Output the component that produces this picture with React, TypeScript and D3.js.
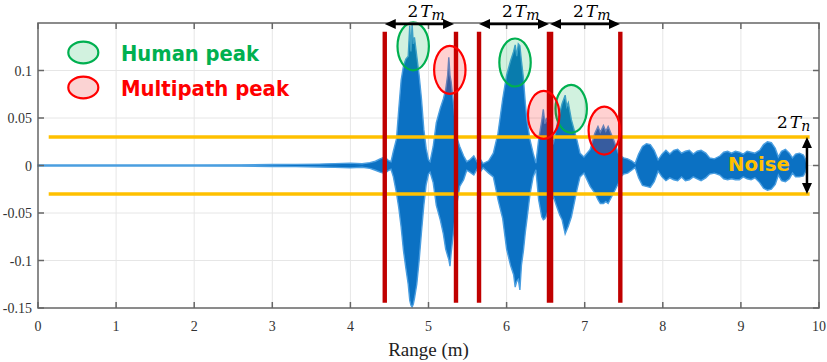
import React, { useEffect, useRef } from "react";
import * as d3 from "d3";

// axis ticks
const rangeTicks = [0, 1, 2, 3, 4, 5, 6, 7, 8, 9, 10];
const ampTicks = [-0.15, -0.1, -0.05, 0, 0.05, 0.1];
const ampTickLabels = ["-0.15", "-0.1", "-0.05", "0", "0.05", "0.1"];

// received signal envelope (range in m, amplitude)
const rangeM = [
  0, 1, 2, 2.6, 3, 3.3, 3.6, 3.8, 4, 4.15, 4.25, 4.32, 4.38, 4.44, 4.49, 4.52,
  4.55, 4.59, 4.62, 4.65, 4.68, 4.71, 4.74, 4.76, 4.775, 4.79, 4.805, 4.82, 4.85,
  4.88, 4.91, 4.94, 4.97, 5.0, 5.02, 5.06, 5.1, 5.15, 5.19, 5.22, 5.245, 5.26,
  5.275, 5.29, 5.32, 5.36, 5.4, 5.45, 5.49, 5.53, 5.58, 5.62, 5.66, 5.7, 5.77,
  5.83, 5.89, 5.95, 6.0, 6.05, 6.09, 6.11, 6.13, 6.15, 6.17, 6.19, 6.215, 6.24,
  6.26, 6.3, 6.34, 6.375, 6.41, 6.45, 6.47, 6.49, 6.51, 6.55, 6.6, 6.64, 6.68,
  6.71, 6.75, 6.77, 6.79, 6.83, 6.9, 6.94, 6.99, 7.07, 7.13, 7.17, 7.2, 7.24,
  7.27, 7.3, 7.37, 7.43, 7.46, 7.5, 7.55, 7.6, 7.645, 7.69, 7.74, 7.79, 7.84,
  7.89, 7.94, 7.99, 8.04, 8.09, 8.14, 8.19, 8.24, 8.29, 8.34, 8.39, 8.44, 8.49,
  8.55, 8.6, 8.66, 8.73, 8.78, 8.83, 8.88, 8.93, 8.98, 9.03, 9.08, 9.13, 9.18,
  9.24, 9.29, 9.34, 9.39, 9.44, 9.48, 9.52, 9.57, 9.62, 9.66, 9.7, 9.75, 9.8,
  9.83, 9.85,
];
const envUpper = [
  0.0006, 0.0006, 0.0006, 0.0007, 0.001, 0.0012, 0.0015, 0.002, 0.0025, 0.0018,
  0.003, 0.0045, 0.007, 0.009, 0.005, 0.004, 0.015, 0.028, 0.06, 0.09, 0.105,
  0.112, 0.115, 0.147, 0.12, 0.149, 0.128, 0.135, 0.115, 0.095, 0.07, 0.038,
  0.018, 0.006, 0.004, 0.02, 0.045, 0.06, 0.07, 0.08, 0.095, 0.114, 0.095, 0.088,
  0.065, 0.03, 0.02, 0.01, 0.004, 0.006, 0.01, 0.004, 0.007, 0.002, 0.005, 0.013,
  0.034, 0.07, 0.095, 0.11, 0.12, 0.127, 0.115, 0.128, 0.126, 0.11, 0.092, 0.065,
  0.048, 0.027, 0.013, 0.0025, 0.027, 0.047, 0.059, 0.044, 0.05, 0.034, 0.024,
  0.041, 0.055, 0.065, 0.074, 0.062, 0.066, 0.048, 0.027, 0.013, 0.009, 0.017,
  0.034, 0.041, 0.035, 0.042, 0.036, 0.041, 0.027, 0.013, 0.01, 0.008, 0.007,
  0.005, 0.002, 0.012, 0.02, 0.023, 0.022, 0.016, 0.006, 0.012, 0.016, 0.012,
  0.016, 0.017, 0.013, 0.015, 0.016, 0.012, 0.015, 0.016, 0.013, 0.008, 0.007,
  0.01, 0.014, 0.015, 0.013, 0.015, 0.014, 0.012, 0.015, 0.014, 0.013, 0.016,
  0.022, 0.025, 0.024, 0.018, 0.009, 0.015, 0.017, 0.013, 0.008, 0.012, 0.013,
  0.011, 0.006, 0.0006,
];
const envLower = [
  -0.0006, -0.0006, -0.0006, -0.0007, -0.001, -0.0012, -0.0016, -0.002, -0.0025,
  -0.0018, -0.003, -0.005, -0.007, -0.0085, -0.005, -0.004, -0.012, -0.029,
  -0.045, -0.065, -0.09, -0.108, -0.125, -0.142, -0.147, -0.149, -0.146, -0.14,
  -0.125, -0.1, -0.07, -0.042, -0.02, -0.009, -0.007, -0.018, -0.042, -0.057,
  -0.072, -0.088, -0.095, -0.099, -0.106, -0.092, -0.07, -0.042, -0.022, -0.015,
  -0.005, -0.007, -0.01, -0.004, -0.007, -0.0025, -0.008, -0.012, -0.036, -0.056,
  -0.088, -0.105, -0.115, -0.128, -0.122, -0.12, -0.131, -0.105, -0.09, -0.07,
  -0.057, -0.03, -0.012, -0.0045, -0.036, -0.054, -0.057, -0.056, -0.053, -0.043,
  -0.033, -0.043, -0.052, -0.057, -0.072, -0.068, -0.064, -0.054, -0.026, -0.012,
  -0.008, -0.022, -0.029, -0.036, -0.04, -0.04, -0.038, -0.04, -0.029, -0.019,
  -0.012, -0.009, -0.008, -0.005, -0.002, -0.013, -0.021, -0.022, -0.023, -0.017,
  -0.006, -0.012, -0.016, -0.013, -0.015, -0.016, -0.012, -0.016, -0.015, -0.012,
  -0.014, -0.016, -0.013, -0.009, -0.008, -0.01, -0.014, -0.015, -0.014, -0.015,
  -0.015, -0.012, -0.014, -0.015, -0.013, -0.018, -0.024, -0.026, -0.025, -0.02,
  -0.01, -0.016, -0.017, -0.014, -0.008, -0.012, -0.012, -0.011, -0.006, -0.0006,
];

// noise threshold band
const noiseLevel = 0.03;
const noiseSpan = [0.137, 9.88];
const noiseArrowX = 9.846;

// window boundaries (red bars) and their vertical extent
const windowEdges = [4.44, 5.352, 5.647, 6.556, 7.456];
const windowBold = [false, false, false, true, false];
const windowTop = 0.1408;
const windowBottom = -0.1444;

// 2Tm spans drawn on top of the box
const tmStart = [4.44, 5.647, 6.556];
const tmEnd = [5.327, 6.543, 7.452];

// detected peaks: [range, amplitude]
const humanPeaks = [
  [4.804, 0.1255],
  [6.108, 0.1084],
  [6.827, 0.0597],
];
const multipathPeaks = [
  [5.273, 0.1007],
  [6.475, 0.0532],
  [7.251, 0.0368],
];

const legendItems = ["Human peak", "Multipath peak"];

const GREEN = "#00b050";
const RED = "#ff0000";
const DARKRED = "#c00000";
const GOLD = "#ffc000";
const BLUE = "#0b71c3";

const App = () => {
  const svgRef = useRef(null);

  useEffect(() => {
    const width = 827;
    const height = 362;
    const m = { left: 38, right: 819, top: 23, bottom: 308 };

    const svg = d3.select(svgRef.current).attr("width", width).attr("height", height);
    svg.selectAll("*").remove();

    const x = d3.scaleLinear().domain([0, 10]).range([m.left, m.right]);
    const y = d3.scaleLinear().domain([-0.15, 0.15]).range([m.bottom, m.top]);

    // grid
    const grid = svg.append("g").attr("stroke", "#e6e6e6").attr("stroke-width", 1);
    rangeTicks.slice(1, -1).forEach((t) => {
      grid.append("line").attr("x1", x(t)).attr("x2", x(t)).attr("y1", m.top).attr("y2", m.bottom);
    });
    ampTicks.slice(1).forEach((t) => {
      grid.append("line").attr("x1", m.left).attr("x2", m.right).attr("y1", y(t)).attr("y2", y(t));
    });

    // signal
    const pts = rangeM.map((r, i) => ({ r, hi: envUpper[i], lo: envLower[i] }));
    svg
      .append("line")
      .attr("x1", x(0))
      .attr("x2", x(9.85))
      .attr("y1", y(0))
      .attr("y2", y(0))
      .attr("stroke", "#6aaee6")
      .attr("stroke-width", 1);
    const area = d3
      .area()
      .x((d) => x(d.r))
      .y0((d) => y(d.lo))
      .y1((d) => y(d.hi));
    svg
      .append("path")
      .datum(pts)
      .attr("d", area)
      .attr("fill", BLUE)
      .attr("stroke", "#4a9ee0")
      .attr("stroke-width", 1.4)
      .attr("stroke-linejoin", "miter");

    // noise thresholds
    [noiseLevel, -noiseLevel].forEach((v) => {
      svg
        .append("line")
        .attr("x1", x(noiseSpan[0]))
        .attr("x2", x(noiseSpan[1]))
        .attr("y1", y(v))
        .attr("y2", y(v))
        .attr("stroke", GOLD)
        .attr("stroke-width", 3.5);
    });

    // window edges
    windowEdges.forEach((w, i) => {
      svg
        .append("line")
        .attr("x1", x(w))
        .attr("x2", x(w))
        .attr("y1", y(windowTop))
        .attr("y2", y(windowBottom))
        .attr("stroke", DARKRED)
        .attr("stroke-width", windowBold[i] ? 6.5 : 4.4);
    });

    // peak ellipses
    const drawPeak = (p, stroke, fill) => {
      svg
        .append("ellipse")
        .attr("cx", x(p[0]))
        .attr("cy", y(p[1]))
        .attr("rx", 15.7)
        .attr("ry", 24)
        .attr("fill", fill)
        .attr("stroke", stroke)
        .attr("stroke-width", 2.2);
    };
    humanPeaks.forEach((p) => drawPeak(p, GREEN, "rgba(0,176,80,0.18)"));
    multipathPeaks.forEach((p) => drawPeak(p, RED, "rgba(255,0,0,0.18)"));

    // axes box + inward ticks
    const ax = svg.append("g").attr("stroke", "#666").attr("stroke-width", 1.5).attr("fill", "none");
    ax.append("rect")
      .attr("x", m.left)
      .attr("y", m.top)
      .attr("width", m.right - m.left)
      .attr("height", m.bottom - m.top);
    rangeTicks.forEach((t) => {
      ax.append("line").attr("x1", x(t)).attr("x2", x(t)).attr("y1", m.bottom).attr("y2", m.bottom - 6);
      ax.append("line").attr("x1", x(t)).attr("x2", x(t)).attr("y1", m.top).attr("y2", m.top + 6);
    });
    ampTicks.forEach((t) => {
      ax.append("line").attr("x1", m.left).attr("x2", m.left + 6).attr("y1", y(t)).attr("y2", y(t));
      ax.append("line").attr("x1", m.right).attr("x2", m.right - 6).attr("y1", y(t)).attr("y2", y(t));
    });

    const serif = "Liberation Serif, Times New Roman, DejaVu Serif, serif";
    rangeTicks.forEach((t) => {
      svg
        .append("text")
        .attr("x", x(t))
        .attr("y", m.bottom + 23)
        .attr("text-anchor", "middle")
        .style("font-family", serif)
        .attr("font-size", 14)
        .attr("fill", "#333")
        .text(t);
    });
    ampTicks.forEach((t, i) => {
      svg
        .append("text")
        .attr("x", m.left - 6)
        .attr("y", y(t) + 5)
        .attr("text-anchor", "end")
        .style("font-family", serif)
        .attr("font-size", 14)
        .attr("fill", "#333")
        .text(ampTickLabels[i]);
    });
    svg
      .append("text")
      .attr("x", (m.left + m.right) / 2)
      .attr("y", 356)
      .attr("text-anchor", "middle")
      .style("font-family", serif)
      .attr("font-size", 19)
      .attr("fill", "#222")
      .text("Range (m)");

    // arrows
    const head = (tipX, tipY, dx, dy) => {
      // dx,dy unit direction the arrow points
      const L = 11;
      const Wd = 5;
      const bx = tipX - dx * L;
      const by = tipY - dy * L;
      const px = -dy * Wd;
      const py = dx * Wd;
      svg
        .append("path")
        .attr("d", `M${tipX},${tipY}L${bx + px},${by + py}L${bx - px},${by - py}Z`)
        .attr("fill", "#000");
    };
    const mathLabel = (lx, ly, sub) => {
      const t = svg
        .append("text")
        .attr("x", lx)
        .attr("y", ly)
        .style("font-family", "DejaVu Serif, serif")
        .attr("font-size", 17)
        .attr("fill", "#000");
      t.append("tspan").text("2");
      t.append("tspan").attr("font-style", "italic").attr("dx", 2).text("T");
      t.append("tspan").attr("font-style", "italic").attr("font-size", 14).attr("dy", 3).text(sub);
    };
    tmStart.forEach((s, i) => {
      const x0 = x(s);
      const x1 = x(tmEnd[i]);
      const yy = m.top + 1;
      svg
        .append("line")
        .attr("x1", x0 + 6)
        .attr("x2", x1 - 6)
        .attr("y1", yy)
        .attr("y2", yy)
        .attr("stroke", "#000")
        .attr("stroke-width", 2.5);
      head(x0, yy, -1, 0);
      head(x1, yy, 1, 0);
      mathLabel((x0 + x1) / 2 - 12, 17, "m");
    });

    const ay0 = y(noiseLevel);
    const ay1 = y(-noiseLevel);
    svg
      .append("line")
      .attr("x1", x(noiseArrowX))
      .attr("x2", x(noiseArrowX))
      .attr("y1", ay0 + 6)
      .attr("y2", ay1 - 6)
      .attr("stroke", "#000")
      .attr("stroke-width", 2.5);
    head(x(noiseArrowX), ay0, 0, -1);
    head(x(noiseArrowX), ay1, 0, 1);
    mathLabel(777, 128, "n");

    svg
      .append("text")
      .attr("x", 728)
      .attr("y", 171)
      .style("font-family", "DejaVu Sans, sans-serif")
      .attr("font-weight", "bold")
      .attr("font-size", 20)
      .attr("fill", GOLD)
      .attr("textLength", 62)
      .attr("lengthAdjust", "spacingAndGlyphs")
      .text("Noise");

    // legend
    const legColors = [GREEN, RED];
    const legFill = ["#d2f2df", "#fbd3d3"];
    const legWidths = [138, 168];
    legendItems.forEach((label, i) => {
      const cy = 52.5 + i * 35;
      svg
        .append("ellipse")
        .attr("cx", 83.3)
        .attr("cy", cy)
        .attr("rx", 15)
        .attr("ry", 10.8)
        .attr("fill", legFill[i])
        .attr("stroke", legColors[i])
        .attr("stroke-width", 2.2);
      svg
        .append("text")
        .attr("x", 121)
        .attr("y", cy + 8)
        .style("font-family", "DejaVu Sans, sans-serif")
        .attr("font-weight", "bold")
        .attr("font-size", 21)
        .attr("fill", legColors[i])
        .attr("textLength", legWidths[i])
        .attr("lengthAdjust", "spacingAndGlyphs")
        .text(label);
    });
  }, []);

  return (
    <svg
      ref={svgRef}
      style={{ position: "absolute", left: 0, top: 0, background: "#fff" }}
    ></svg>
  );
};

export default App;
